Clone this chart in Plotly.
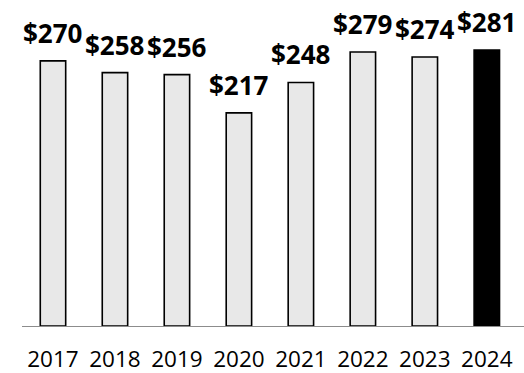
import plotly.graph_objects as go

years = ["2017", "2018", "2019", "2020", "2021", "2022", "2023", "2024"]
values = [270, 258, 256, 217, 248, 279, 274, 281]
labels = ["$270", "$258", "$256", "$217", "$248", "$279", "$274", "$281"]

fills = ["#e8e8e8"] * (len(years) - 1) + ["#000000"]

fig = go.Figure(
    go.Bar(
        x=years,
        y=values,
        marker=dict(color=fills, line=dict(color="#000000", width=1.6)),
        width=0.41,
        hoverinfo="skip",
    )
)

for i, (v, lab) in enumerate(zip(values, labels)):
    # escape the dollar sign so it is not read as TeX
    safe = lab.replace("$", "&#36;")
    fig.add_annotation(
        x=i, y=v, xref="x", yref="y", text=f"<b>{safe}</b>", showarrow=False,
        yanchor="bottom", yshift=8,
        font=dict(family="Open Sans", size=26, color="#000000"),
    )

fig.update_layout(
    width=524, height=373,
    margin=dict(l=22, r=0, t=0, b=47),
    paper_bgcolor="#ffffff", plot_bgcolor="#ffffff",
    showlegend=False,
    xaxis=dict(
        type="category",
        showline=True, linecolor="#8c8c8c", linewidth=1, automargin=False,
        showgrid=False, ticks="outside", ticklen=13, tickcolor="rgba(0,0,0,0)",
        tickfont=dict(family="Open Sans", size=22.5, color="#000000"),
        range=[-0.5, 7.6],
    ),
    yaxis=dict(
        range=[0, 332], showgrid=False, zeroline=False, showline=False,
        showticklabels=False, ticks="", automargin=False,
    ),
)

fig.write_html("out.html")
